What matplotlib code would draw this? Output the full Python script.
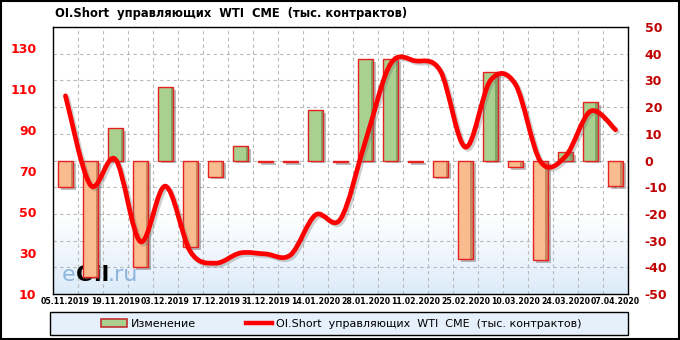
import numpy as np
import matplotlib.pyplot as plt
from matplotlib.path import Path
from matplotlib.patches import PathPatch, Patch, Rectangle
from matplotlib.lines import Line2D
import matplotlib.patheffects as pe

# weekly dates (every other one is labelled)
dates = ['05.11.2019', '12.11.2019', '19.11.2019', '26.11.2019', '03.12.2019', '10.12.2019',
         '17.12.2019', '24.12.2019', '31.12.2019', '07.01.2020', '14.01.2020', '21.01.2020',
         '28.01.2020', '04.02.2020', '11.02.2020', '18.02.2020', '25.02.2020', '03.03.2020',
         '10.03.2020', '17.03.2020', '24.03.2020', '31.03.2020', '07.04.2020']

# OI short, thousand contracts (left axis)
oi_short = [106.5, 63, 75.5, 35.5, 62.5, 30.5, 25, 30, 29.5, 29, 48.5, 46.5,
            84.5, 122, 123.5, 118.5, 81.5, 114, 112, 74.5, 77, 99, 90]

# weekly change (right axis)
change = [-10, -43.5, 12, -40, 27.4, -32.3, -6, 5.5, -0.5, -0.5, 19, -0.5,
          38, 38, -0.5, -6, -37, 33, -2.5, -37.3, 3, 21.8, -9.5]

left_ticks = [10, 30, 50, 70, 90, 110, 130]
right_ticks = [-50, -40, -30, -20, -10, 0, 10, 20, 30, 40, 50]

x = np.arange(len(dates))
pos_color = '#A9D08E'
neg_color = '#F8BC8F'
pos_dark = '#7FA265'
neg_dark = '#C98862'

fig = plt.figure(figsize=(6.8, 3.4), dpi=100)
fig.patch.set_facecolor('white')

ax = fig.add_axes([53/680, 1 - 294/340, 575/680, 267/340])
ax2 = ax.twinx()

# background gradient of the plot area (white above, light blue at the bottom)
t = np.linspace(0, 1, 256)            # 0 = bottom, 1 = top
w = np.clip(t / 0.3, 0, 1) ** 0.9
rgb = np.zeros((256, 1, 3))
top = np.array([1.0, 1.0, 1.0])
bot = np.array([0.86, 0.92, 0.98])
for i in range(3):
    rgb[:, 0, i] = bot[i] + (top[i] - bot[i]) * w
ax.imshow(rgb[::-1], extent=[0, 1, 0, 1], transform=ax.transAxes, aspect='auto', zorder=0)

# bars (right axis)
bw = 0.58
cols = [pos_color if v >= 0 else neg_color for v in change]
darks = [pos_dark if v >= 0 else neg_dark for v in change]
bars = ax.bar(x, change, width=bw, color=cols, edgecolor='none', zorder=3)
for b in bars:
    b.set_path_effects([pe.SimplePatchShadow(offset=(2, -2), shadow_rgbFace='#555555', alpha=0.4),
                        pe.Normal()])
# darker right side of each bar for the bevelled look
ax.bar(x + bw/2 - 0.045, change, width=0.09, color=darks, edgecolor='none', zorder=3.5)
ax.bar(x, change, width=bw, color='none', edgecolor='#E8201E', linewidth=1.0, zorder=4)

ax.set_xlim(-0.5, len(dates) - 0.5)
ax.set_ylim(-50, 50)
ax.yaxis.tick_right()
ax.yaxis.set_label_position('right')
ax.set_yticks(right_ticks)
ax.set_yticklabels([str(t) for t in right_ticks])
ax.tick_params(axis='y', length=0, pad=12, labelcolor='#C00000', labelsize=9,
               left=False, labelleft=False, right=True, labelright=True)
for lab in ax.get_yticklabels():
    lab.set_fontweight('bold')

ax.set_xticks(x[::2])
ax.set_xticklabels(dates[::2], fontsize=5.6, fontweight='bold')
ax.set_xticks(x[:-1] + 0.5, minor=True)
ax.tick_params(axis='x', which='both', length=0, pad=2)
ax.grid(True, axis='y', which='major', color='#B8B8B8', linestyle=(0, (3, 3)), linewidth=0.8)
ax.grid(True, axis='x', which='minor', color='#B8B8B8', linestyle=(0, (3, 3)), linewidth=0.8)
ax.set_axisbelow(True)
for s in ax.spines.values():
    s.set_color('black')
    s.set_linewidth(1.0)

# watermark
ax.text(0.016, 0.05, 'e', transform=ax.transAxes, fontsize=16, color='#8DB6DE', zorder=2)
ax.text(0.040, 0.05, 'Oil', transform=ax.transAxes, fontsize=16, fontweight='bold', color='black', zorder=2)
ax.text(0.095, 0.05, '.ru', transform=ax.transAxes, fontsize=16, color='#8DB6DE', zorder=2)

# smoothed line (left axis)
ax2.patch.set_visible(False)
ax2.set_ylim(10, 140)
ax2.set_yticks(left_ticks)
ax2.set_yticklabels([str(t) for t in left_ticks])
ax2.tick_params(axis='y', length=0, pad=12, labelcolor='#FF0000', labelsize=9,
                left=True, labelleft=True, right=False, labelright=False)
for lab in ax2.get_yticklabels():
    lab.set_fontweight('bold')
for s in ax2.spines.values():
    s.set_visible(False)

pts = np.column_stack([x, oi_short]).astype(float)
verts = [pts[0]]
codes = [Path.MOVETO]
n = len(pts)
for i in range(n - 1):
    p0 = pts[i - 1] if i > 0 else pts[i]
    p1 = pts[i]
    p2 = pts[i + 1]
    p3 = pts[i + 2] if i + 2 < n else pts[i + 1]
    c1 = p1 + (p2 - p0) / 6.0
    c2 = p2 - (p3 - p1) / 6.0
    verts += [c1, c2, p2]
    codes += [Path.CURVE4] * 3
line_patch = PathPatch(Path(verts, codes), facecolor='none', edgecolor='#FF0000',
                       linewidth=3.4, capstyle='round', joinstyle='round', zorder=5)
line_patch.set_path_effects([pe.SimpleLineShadow(offset=(1.5, -1.5), shadow_color='#777777', alpha=0.35),
                             pe.Normal()])
ax2.add_patch(line_patch)

# title
fig.text(55/680, 1 - 14/340, 'OI.Short  управляющих  WTI  CME  (тыс. контрактов)',
         fontsize=8.3, fontweight='bold', va='center', ha='left')

# legend box
fig.patches.append(Rectangle((50/680, 1 - 335/340), 578/680, 23/340, transform=fig.transFigure,
                             facecolor='#E6F0FB', edgecolor='black', linewidth=1.0))
handles = [Patch(facecolor=pos_color, edgecolor='#C03030', linewidth=1.2),
           Line2D([0], [0], color='#FF0000', linewidth=3.2)]
labels = ['Изменение', 'OI.Short  управляющих  WTI  CME  (тыс. контрактов)']
fig.legend(handles, labels, loc='center', bbox_to_anchor=(341/680, 1 - 324/340), ncol=2,
           frameon=False, fontsize=8, handlelength=2.4, handleheight=0.8, handletextpad=0.3,
           columnspacing=4.5)

# outer border
fig.patches.append(Rectangle((0.002, 0.003), 0.996, 0.994, transform=fig.transFigure,
                             facecolor='none', edgecolor='black', linewidth=1.5))

plt.savefig('out.png', dpi=100)
